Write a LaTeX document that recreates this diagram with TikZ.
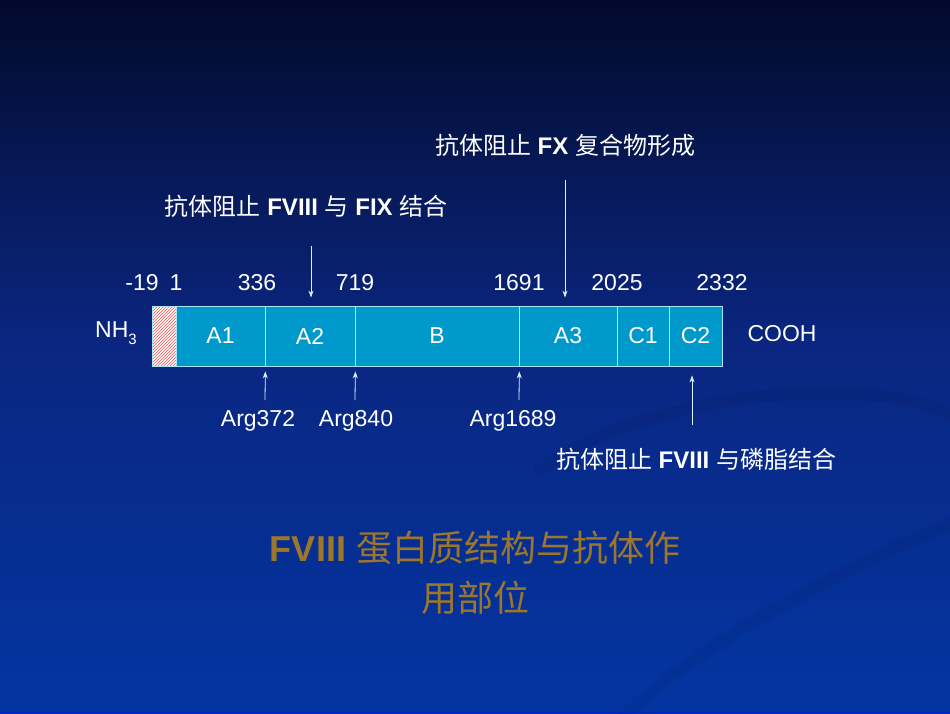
\documentclass[tikz,border=0pt]{standalone}
\usepackage{fontspec}
\setmainfont{Liberation Sans}
\newfontfamily\cjk{Noto Sans CJK SC}
\usetikzlibrary{arrows.meta,patterns,positioning}

\definecolor{bgtop}{HTML}{020A2C}
\definecolor{bgmid}{HTML}{0A2680}
\definecolor{bgbot}{HTML}{0335A2}
\definecolor{barfill}{HTML}{0099CC}
\definecolor{barline}{HTML}{A8E4F4}
\definecolor{titlegold}{HTML}{9C762A}

\tikzset{
  dombox/.style={draw=barline, line width=0.8pt, fill=barfill, minimum height=60pt,
    inner sep=0pt, text=white, font=\fontsize{23}{26}\selectfont},
  lbl/.style={text=white, font=\fontsize{23}{26}\selectfont, inner sep=0pt},
  note/.style={text=white, font=\fontsize{24}{28}\selectfont, inner sep=0pt},
  pointer/.style={draw=white!85!cyan, line width=0.8pt, -{Stealth[length=7pt,width=5pt]}},
  swoosh/.style={draw=bgtop, opacity=0.07, line width=12pt, line cap=round},
}

\begin{document}
\begin{tikzpicture}[x=1pt,y=-1pt]
        \useasboundingbox (0,0) rectangle (950,713);
        % background
        \shade[top color=bgtop, bottom color=bgmid] (0,0) rectangle (950,341);
        \shade[top color=bgmid, bottom color=bgbot] (0,340) rectangle (950,713);
        \begin{scope}
            \clip (0,0) rectangle (950,713);
            \draw[swoosh] (540,470) .. controls (650,390) and (880,370) .. (960,420);
            \draw[swoosh] (620,720) .. controls (700,640) and (860,560) .. (960,520);
            \draw[blue!40!bgbot, line width=1.5pt] (0,712.5) -- (950,712.5);
        \end{scope}

        % bar
        \node[draw=barline, line width=0.8pt, preaction={fill=white}, pattern=north east lines,
          pattern color=red!70, minimum width=24pt, minimum height=60pt, inner sep=0pt] (sig) at (164,336) {};
        \foreach \l/\r/\d in {176/265/A1,265/355/A2,355/519/B,519/617/A3,617/669/C1,669/722/C2} {
            \node[dombox, minimum width={(\r-\l)*1pt}] (\d) at ({(\l+\r)/2},336) {\d};
        }
        \node[lbl] (nh) at (116,333) {NH\raisebox{-7pt}{\fontsize{15}{15}\selectfont 3}};
        \node[lbl] (cooh) at (782,334) {COOH};

        % residue numbers
        \foreach \x/\n in {142/-19,176/1,257/336,355/719,519/1691,617/2025,722/2332} {
            \node[lbl] (p\n) at (\x,283) {\n};
        }

        % cleavage sites
        \foreach \x/\n/\lx/\t in {265/372/258/A1,355/840/356/A2,519/1689/513/B} {
            \node[lbl] (arg\n) at (\lx,421) {Arg\n};
            \coordinate (c\n) at (\x,400);
            \draw[pointer, shorten >=5pt] (c\n) -- (\t.south east);
        }

        % antibody sites
        \node[note] (fix) at (306,206) {{\cjk 抗体阻止} \textbf{FVIII} {\cjk 与} \textbf{FIX} {\cjk 结合}};
        \coordinate (fixtail) at (311,246);
        \draw[pointer, shorten >=8pt] (fixtail) -- (fixtail |- A2.north);

        \node[note] (fx) at (565,145) {{\cjk 抗体阻止} \textbf{FX} {\cjk 复合物形成}};
        \coordinate (fxtail) at (565,180);
        \draw[pointer, shorten >=8pt] (fxtail) -- (fxtail |- A3.north);

        \node[note] (lipid) at (696,459) {{\cjk 抗体阻止} \textbf{FVIII} {\cjk 与磷脂结合}};
        \coordinate (lipidtail) at (692,425);
        \draw[pointer, shorten >=9pt] (lipidtail) -- (lipidtail |- C2.south);

        % title
        \node[text=titlegold, align=center, font=\fontsize{36}{50}\selectfont] (title) at (475,573)
          {\textbf{FVIII} {\cjk 蛋白质结构与抗体作}\\{\cjk 用部位}};
\end{tikzpicture}
\end{document}
